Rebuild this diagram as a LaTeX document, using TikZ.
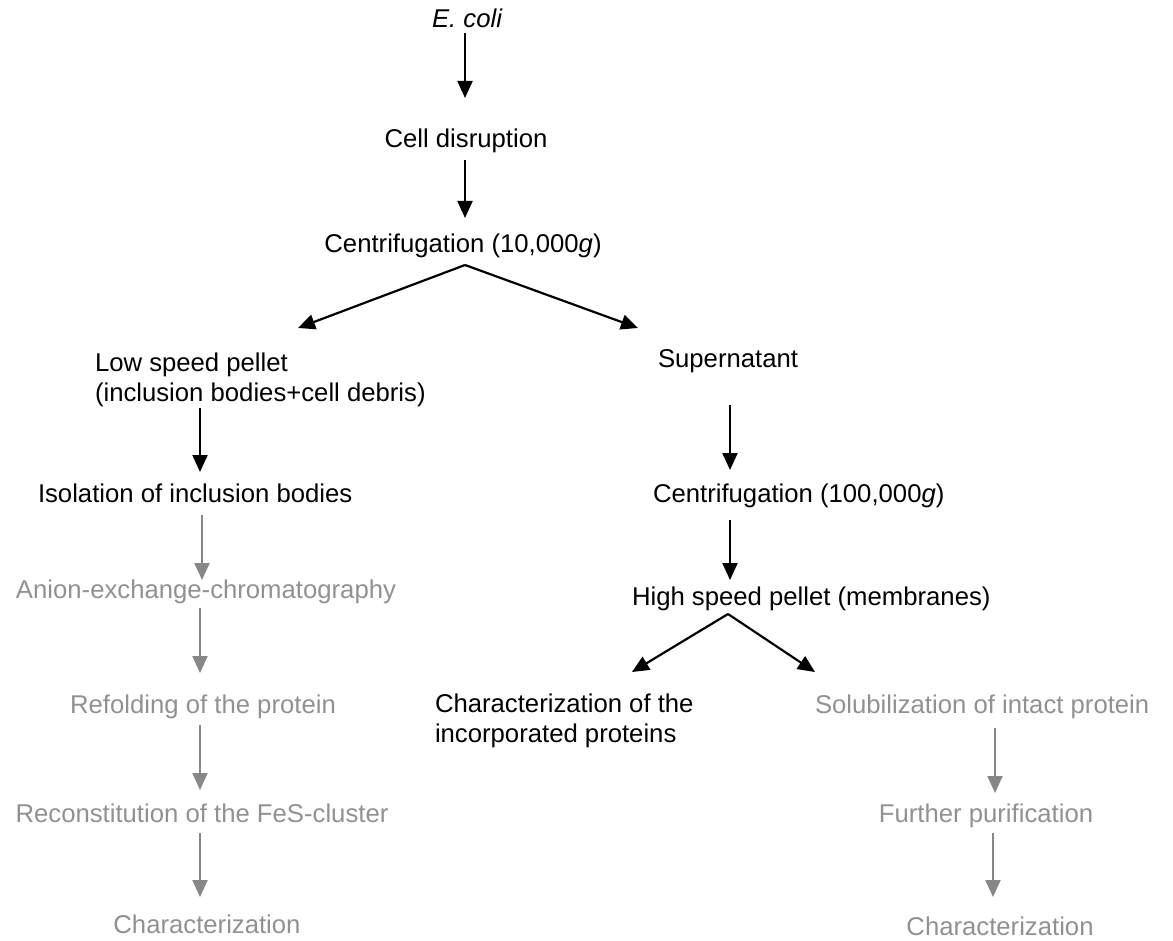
\documentclass[tikz,border=0pt]{standalone}
\usepackage{fontspec}
\setmainfont{Liberation Sans}
\usetikzlibrary{arrows.meta,calc}
\definecolor{txtgray}{RGB}{145,145,145}
\definecolor{arrgray}{RGB}{135,135,135}
\begin{document}
\begin{tikzpicture}[x=1pt,y=-1pt,
  lbl/.style={inner sep=0pt,outer sep=0pt,font=\fontsize{25.7}{30}\selectfont,align=left},
  glbl/.style={lbl,text=txtgray},
  arr/.style={line width=2.2pt,draw=black,-{Triangle[length=17pt,width=15pt]}},
  garr/.style={line width=2.2pt,draw=arrgray,-{Triangle[length=17pt,width=15pt]}}]
\useasboundingbox (0,0) rectangle (1173,941);
% black nodes
\node[lbl,anchor=base] (ecoli) at (467,28) {\itshape E. coli};
\node[lbl,anchor=base] (cell) at (466,148) {Cell disruption};
\node[lbl,anchor=base] (c10) at (463,253) {Centrifugation (10,000\textit{g})};
\node[lbl,anchor=base west] (lsp) at (95,401) {Low speed pellet\\(inclusion bodies+cell debris)};
\node[lbl,anchor=base west] (sup) at (658,367) {Supernatant};
\node[lbl,anchor=base west] (iso) at (38,502) {Isolation of inclusion bodies};
\node[lbl,anchor=base west] (c100) at (653,502) {Centrifugation (100,000\textit{g})};
\node[lbl,anchor=base west] (hsp) at (632,605) {High speed pellet (membranes)};
\node[lbl,anchor=base west] (inc) at (435,742) {Characterization of the\\incorporated proteins};
% gray nodes
\node[glbl,anchor=base] (anion) at (206,598) {Anion-exchange-chromatography};
\node[glbl,anchor=base] (refold) at (203,713) {Refolding of the protein};
\node[glbl,anchor=base] (recon) at (202,822) {Reconstitution of the FeS-cluster};
\node[glbl,anchor=base] (charl) at (207,933) {Characterization};
\node[glbl,anchor=base west] (solub) at (815,713) {Solubilization of intact protein};
\node[glbl,anchor=base] (further) at (986,822) {Further purification};
\node[glbl,anchor=base] (charr) at (1000,935) {Characterization};
% black connectors
\draw[arr] ($(ecoli.base)+(-2,5)$) -- ($(cell.base)+(-1,-50)$);
\draw[arr] ($(cell.base)+(-1,12)$) -- ($(c10.base)+(2,-35)$);
\draw[arr] ($(c10.base)+(2,12)$) -- ($(lsp.base west)+(203,-73)$);
\draw[arr] ($(c10.base)+(2,12)$) -- ($(sup.base west)+(-20,-39)$);
\draw[arr] ($(lsp.base west)+(105,7)$) -- ($(iso.base west)+(162,-30)$);
\draw[arr] ($(sup.base west)+(72,38)$) -- ($(c100.base west)+(77,-32)$);
\draw[arr] ($(c100.base west)+(77,18)$) -- ($(hsp.base west)+(98,-25)$);
\draw[arr] ($(hsp.base west)+(96,9)$) -- ($(inc.base west)+(197,-70)$);
\draw[arr] ($(hsp.base west)+(96,9)$) -- ($(solub.base west)+(0,-41)$);
% gray connectors
\draw[garr] ($(iso.base west)+(164,13)$) -- ($(anion.base)+(-4,-18)$);
\draw[garr] ($(anion.base)+(-6,10)$) -- ($(refold.base)+(-3,-40)$);
\draw[garr] ($(refold.base)+(-3,12)$) -- ($(recon.base)+(-2,-32)$);
\draw[garr] ($(recon.base)+(-2,11)$) -- ($(charl.base)+(-7,-36)$);
\draw[garr] ($(solub.base west)+(180,15)$) -- ($(further.base)+(9,-29)$);
\draw[garr] ($(further.base)+(7,11)$) -- ($(charr.base)+(-7,-38)$);
\end{tikzpicture}
\end{document}
